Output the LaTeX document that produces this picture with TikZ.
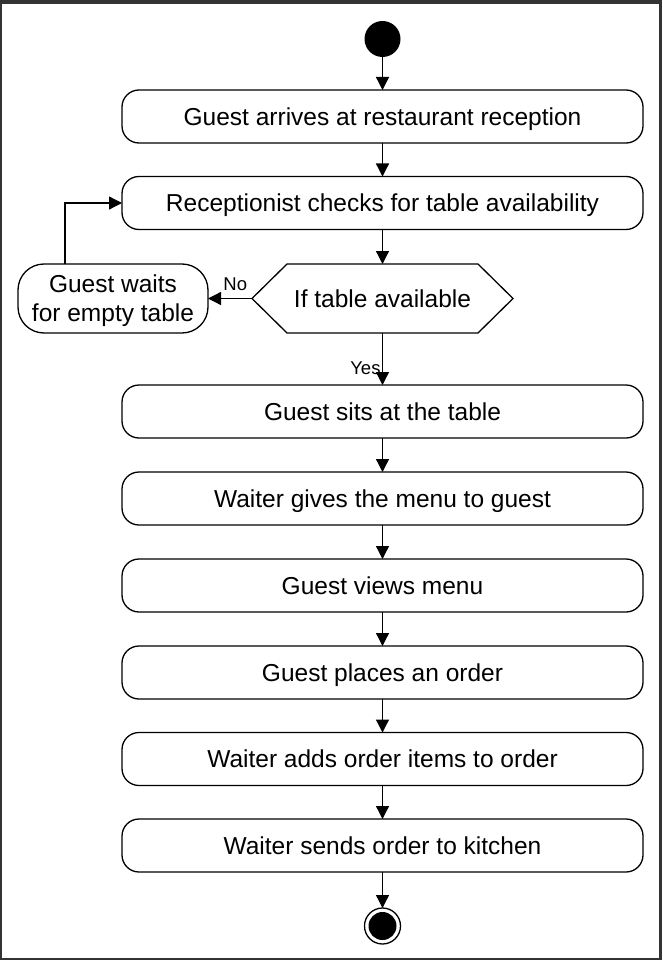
\documentclass[tikz,border=0pt]{standalone}
\usepackage{fontspec}
\setmainfont{Liberation Sans}
\usetikzlibrary{arrows.meta}

\begin{document}
\begin{tikzpicture}[x=1pt,y=-1pt,
  every node/.style={font=\fontsize{24.5}{29}\selectfont, outer sep=0pt},
  action/.style={draw, line width=1.3pt, rounded corners=17pt, minimum width=521pt, minimum height=53pt, text depth=0pt},
  waitbox/.style={draw, line width=1.3pt, rounded corners=26pt, minimum width=190pt, minimum height=69pt, align=center, inner sep=1pt, text depth=0pt},
  decision/.style={minimum width=261pt, minimum height=69pt, text depth=0pt},
  guard/.style={font=\fontsize{18.5}{22}\selectfont, inner sep=2pt},
  flow/.style={line width=1.3pt, -{Triangle[length=13pt,width=13pt]}}]
% Frame
\fill[black!80] (0,0) rectangle (662,960);
\fill[white] (1.5,4) rectangle (659,958);

% Start and first steps
\node[circle, fill, minimum size=36pt, inner sep=0pt] (start) at (382.5,39) {};
\node[action] (arrive) at (382.5,116.5) {Guest arrives at restaurant reception};
\node[action] (check) at (382.5,203) {Receptionist checks for table availability};

% Decision
\node[decision] (avail) at (382.5,298.5) {If table available};
\draw[line width=1.3pt] (avail.west) -- ([xshift=35pt]avail.north west) -- ([xshift=-35pt]avail.north east)
  -- (avail.east) -- ([xshift=-35pt]avail.south east) -- ([xshift=35pt]avail.south west) -- cycle;
\node[waitbox] (wait) at (113,298.5) {Guest waits\\for empty table};

% Remaining steps top to bottom
\node[action] (sit) at (382.5,411.5) {Guest sits at the table};
\node[action] (menu) at (382.5,498.5) {Waiter gives the menu to guest};
\node[action] (view) at (382.5,585.5) {Guest views menu};
\node[action] (order) at (382.5,672.5) {Guest places an order};
\node[action] (items) at (382.5,759) {Waiter adds order items to order};
\node[action] (kitchen) at (382.5,845.5) {Waiter sends order to kitchen};

% End
\node[circle, draw, line width=1.3pt, minimum size=36pt, inner sep=0pt] (stop) at (382.5,926) {};
\node[circle, fill, minimum size=28pt, inner sep=0pt] (stopdot) at (stop) {};

% Flow arrows
\draw[flow] (start) -- (arrive);
\draw[flow] (arrive) -- (check);
\draw[flow] (check) -- (avail);
\draw[flow] (avail.west) -- node[guard, pos=0.38, above, yshift=6pt] {No} (wait.east);
\draw[flow] ([xshift=-48pt]wait.north) |- (check.west);
\draw[flow] (avail) -- node[guard, pos=0.68, left] {Yes} (sit);
\draw[flow] (sit) -- (menu);
\draw[flow] (menu) -- (view);
\draw[flow] (view) -- (order);
\draw[flow] (order) -- (items);
\draw[flow] (items) -- (kitchen);
\draw[flow] (kitchen) -- (stop);
\end{tikzpicture}
\end{document}
